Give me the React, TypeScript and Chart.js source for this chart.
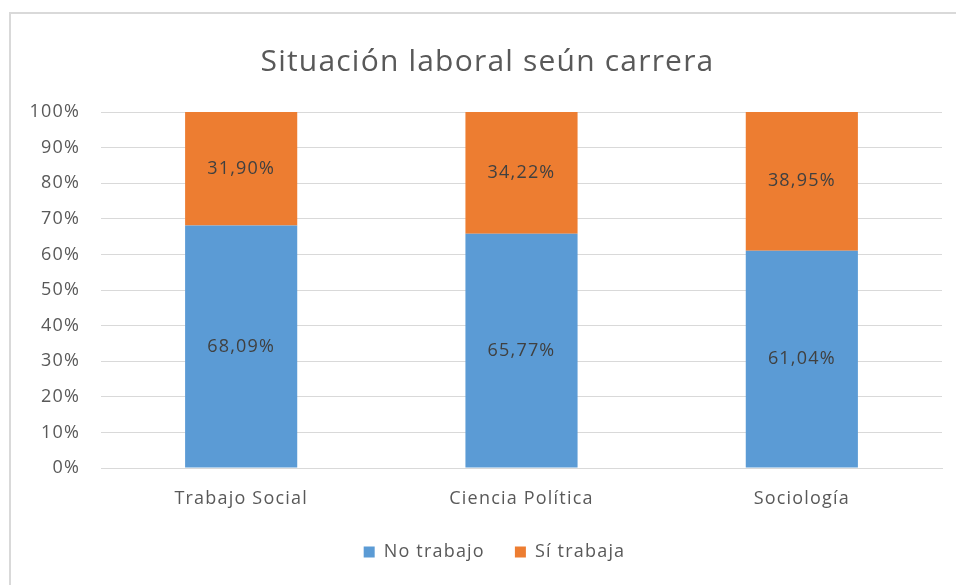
import React, { useEffect, useRef } from "react";
import { Chart, registerables } from "chart.js";

Chart.register(...registerables);

const categories = ["Trabajo Social", "Ciencia Política", "Sociología"];
const noTrabajo = [68.09, 65.77, 61.04];
const siTrabaja = [31.9, 34.22, 38.95];
const seriesNames = ["No trabajo", "Sí trabaja"];
const yTicks = [0, 10, 20, 30, 40, 50, 60, 70, 80, 90, 100];
const titleText = "Situación laboral seún carrera";

const FONT = "'Open Sans', Lato, sans-serif";
const SPACING = "1.2px";

const fmt = (v: number) => v.toFixed(2).replace(".", ",") + "%";

const spacingPlugin = {
  id: "spacing",
  beforeLayout(chart: any) { chart.ctx.letterSpacing = SPACING; },
  beforeDraw(chart: any) { chart.ctx.letterSpacing = SPACING; },
};

const shiftPlugin = {
  id: "shiftBoxes",
  afterLayout(chart: any) {
    if (chart.legend) { chart.legend.left += 11; chart.legend.right += 11; }
    if (chart.titleBlock) { chart.titleBlock.left += 4; chart.titleBlock.right += 4; }
  },
};

const labelPlugin = {
  id: "segLabels",
  afterDatasetsDraw(chart: any) {
    const ctx = chart.ctx;
    ctx.save();
    ctx.font = `18px ${FONT}`;
    ctx.fillStyle = "#404040";
    ctx.textAlign = "center";
    ctx.textBaseline = "middle";
    chart.data.datasets.forEach((ds: any, di: number) => {
      const meta = chart.getDatasetMeta(di);
      meta.data.forEach((bar: any, i: number) => {
        const y = (bar.y + bar.base) / 2;
        ctx.fillText(fmt(ds.data[i]), bar.x, y);
      });
    });
    ctx.restore();
  },
};

export default function App() {
  const ref = useRef<HTMLCanvasElement>(null);
  useEffect(() => {
    if (!ref.current) return;
    const chart = new Chart(ref.current, {
      type: "bar",
      data: {
        labels: categories,
        datasets: [
          { label: seriesNames[0], data: noTrabajo, backgroundColor: "#5B9BD5", categoryPercentage: 1, barPercentage: 0.4 },
          { label: seriesNames[1], data: siTrabaja, backgroundColor: "#ED7D31", categoryPercentage: 1, barPercentage: 0.4 },
        ],
      },
      options: {
        animation: false,
        responsive: false,
        maintainAspectRatio: false,
        layout: { padding: { left: 25, right: 14, top: 0, bottom: 14 } },
        plugins: {
          title: {
            display: true,
            text: titleText,
            color: "#595959",
            font: { family: FONT, size: 30, weight: "normal" },
            padding: { top: 44, bottom: 32 },
          },
          legend: {
            position: "bottom",
            labels: {
              color: "#595959",
              font: { family: FONT, size: 18 },
              boxWidth: 11,
              boxHeight: 11,
              padding: 30,
            },
          },
          tooltip: { enabled: false },
        },
        scales: {
          x: {
            stacked: true,
            afterFit: (scale: any) => { scale.height = 45; },
            grid: { display: false, drawTicks: false },
            border: { color: "#d9d9d9", width: 1 },
            ticks: { color: "#595959", font: { family: FONT, size: 18 }, padding: 20 },
          },
          y: {
            stacked: true,
            min: 0,
            max: 100,
            afterFit: (scale: any) => { scale.width = 76; },
            afterBuildTicks: (scale: any) => { scale.ticks = yTicks.map((v) => ({ value: v })); },
            grid: { color: "#d9d9d9", drawTicks: false },
            border: { display: false },
            ticks: {
              color: "#595959",
              font: { family: FONT, size: 18 },
              padding: 21,
              callback: (v: any) => v + "%",
            },
          },
        },
      } as any,
      plugins: [spacingPlugin, shiftPlugin, labelPlugin],
    });
    return () => chart.destroy();
  }, []);

  return (
    <div style={{ position: "fixed", left: 0, top: 0, width: 956, height: 585, background: "#fff", overflow: "hidden" }}>
      <div style={{ position: "absolute", left: 9, top: 12, width: 1000, height: 700, borderLeft: "2px solid #d9d9d9", borderTop: "2px solid #d9d9d9" }} />
      <canvas ref={ref} width={956} height={585} style={{ position: "absolute", left: 0, top: 0, width: 956, height: 585 }} />
    </div>
  );
}
